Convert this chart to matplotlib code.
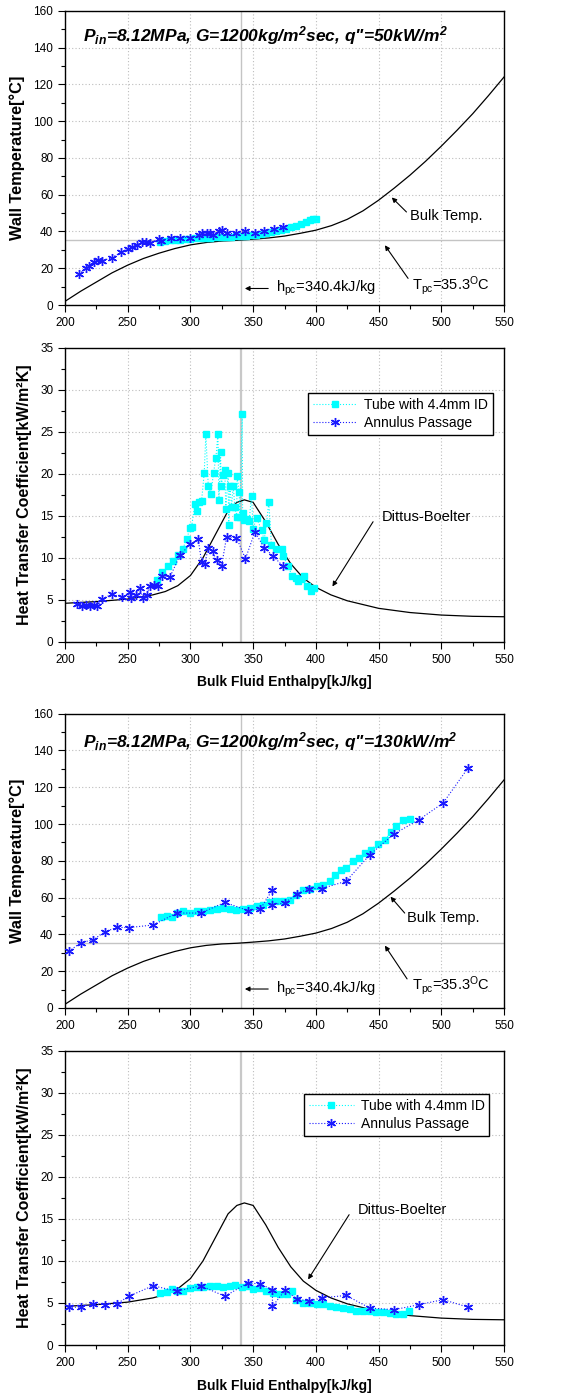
import matplotlib
matplotlib.use('Agg')
import matplotlib.pyplot as plt
from matplotlib.ticker import MultipleLocator

plt.rcParams['font.family'] = ['Liberation Sans', 'DejaVu Sans']
plt.rcParams['mathtext.fontset'] = 'custom'
plt.rcParams['mathtext.rm'] = 'Liberation Sans:bold:italic'
plt.rcParams['mathtext.it'] = 'Liberation Sans:bold:italic'
plt.rcParams['mathtext.bf'] = 'Liberation Sans:bold:italic'
plt.rcParams['mathtext.sf'] = 'Liberation Sans'

# ---------------- data ----------------
H_PC = 340.4
T_PC = 35.3

bulk_h = [200, 212.5, 225, 237.5, 250, 262.5, 275, 287.5, 300, 312.5, 325, 337.5, 350,
          362.5, 375, 387.5, 400, 412.5, 425, 437.5, 450, 462.5, 475, 487.5, 500,
          512.5, 525, 537.5, 550]
bulk_T = [2, 7.5, 12.5, 17.5, 21.7, 25.3, 28.2, 30.7, 32.7, 34, 34.8, 35.2, 35.8,
          36.5, 37.5, 39, 40.7, 43.2, 46.6, 51.2, 57, 63.6, 70.6, 78.2, 86.4,
          95, 104, 113.8, 124]

db_h = [200, 225, 250, 270, 280, 290, 300, 310, 320, 330, 337, 343, 350, 360, 370,
        380, 390, 400, 412, 425, 450, 475, 500, 525, 550]
db_v = [4.6, 4.8, 5.1, 5.6, 6.0, 6.7, 7.9, 10.0, 12.8, 15.6, 16.6, 16.9, 16.6, 14.3, 11.6,
        9.3, 7.6, 6.5, 5.6, 4.9, 4.0, 3.5, 3.2, 3.05, 3.0]

# q" = 50 kW/m2 : wall temperature
tw50_tube_h = [276, 280, 284, 288, 292, 296, 300, 304, 308, 312, 316, 320, 324, 328, 332,
               336, 340, 344, 348, 352, 356, 360, 364, 368, 372, 376, 380, 384, 388, 392,
               395, 398, 400]
tw50_tube_T = [34.5, 35, 35.2, 35.5, 35.6, 35.8, 36, 36.2, 36.3, 36.5, 36.6, 36.8, 37, 37, 37.2,
               37.3, 37.5, 37.7, 38, 38.3, 38.6, 39, 39.5, 40, 40.8, 41.5, 42.5, 43.2, 44, 45,
               46, 47, 47]
tw50_ann_h = [211.2, 216.7, 219.4, 223.4, 226.6, 229.2, 237.2, 244.6, 250.5, 253.1, 257.1,
              261.1, 264.5, 267.7, 275.1, 276.7, 284.2, 291.6, 299.6, 307, 309.4, 312.9, 316,
              318.2, 322.7, 325.3, 328.8, 336.7, 343.9, 351.4, 358.8, 366.5, 373.9]
tw50_ann_T = [16.8, 19.9, 21.3, 23.5, 24.6, 24, 25.7, 28.6, 30.7, 31.5, 32.5,
              34.2, 34.5, 33.8, 36, 34.9, 36.5, 36.7, 36.7, 38, 39.4, 39.4, 39.4,
              38.3, 40.3, 40.7, 38.9, 38.9, 40.5, 39.4, 40.5, 41.6, 42.5]

# q" = 50 kW/m2 : heat transfer coefficient
htc50_tube_h = [273, 277, 282.3, 286.3, 290.3, 293.7, 296.9, 299.6, 300.9, 303.6, 304.9, 307,
                308.9, 311, 312.3, 314.2, 316.3, 318.4, 320.3, 321.9, 322.7, 324, 324.5,
                326.1, 327.4, 328.2, 330.1, 330.5, 331.4, 332.8, 334.1, 335.4, 336.8, 337.3,
                338.9, 339.4, 341.3, 341.6, 342.9, 344.7, 346.8, 348.7, 350, 352.7, 356.7,
                358.8, 360.6, 362.5, 364.6, 368.6, 372.6, 373.9, 377.9, 381.1, 384.5, 385.9,
                388, 390.4, 393, 396.5, 398.6]
htc50_tube_v = [7.4, 8.3, 9.0, 9.6, 10.4, 11.0, 12.2, 13.5, 13.7, 16.4, 15.6, 16.7,
                16.8, 20.1, 24.7, 18.6, 17.6, 20.1, 21.9, 24.7, 16.9, 22.6, 18.6,
                19.9, 20.5, 15.8, 20.1, 13.9, 18.6, 16.1, 18.6, 16.1, 14.9, 19.7,
                17.8, 14.9, 27.1, 15.3, 14.5, 14.6, 14.4, 17.4, 13.4, 14.8, 13.3,
                12.1, 14.1, 16.6, 11.5, 11.0, 11.0, 10.2, 9.0, 7.9, 7.6, 7.2,
                7.5, 7.8, 6.6, 6.1, 6.4]
htc50_ann_h = [209.8, 213.3, 216.7, 219.9, 223.1, 225.8, 229.7, 237.4, 245.1, 251.8, 252.6,
               256.6, 259.7, 261.9, 265.1, 267.7, 270.9, 274.3, 277, 283.6, 291.6, 299.6,
               306.2, 308.9, 311.5, 314.2, 317.6, 320.8, 324.8, 328.8, 336.7, 343.9, 351.4,
               358.8, 366, 373.9]
htc50_ann_v = [4.55, 4.3, 4.4, 4.3, 4.4, 4.3, 5.1, 5.7, 5.3, 5.9, 5.2,
               5.6, 6.4, 5.2, 5.6, 6.7, 6.8, 6.6, 7.9, 7.7, 10.3, 11.6,
               12.2, 9.5, 9.3, 11.2, 10.8, 9.7, 9.0, 12.5, 12.4, 9.9, 13.1,
               11.2, 10.2, 9.0]

# q" = 130 kW/m2 : wall temperature
tw130_tube_h = [276.5, 281, 285, 289, 294.3, 299.6, 304.9, 310.2, 315.5, 320.8, 326.1, 331.4,
                336.7, 342, 347.4, 352.7, 358, 363.3, 368.6, 374, 379.2, 384.5, 389.9, 395.2,
                400.5, 405.8, 411.1, 415.1, 420.4, 424.4, 429.7, 434.5, 439, 443.8, 449.6,
                454.9, 460.2, 464.2, 469.5, 474.8]
tw130_tube_T = [49.5, 49.8, 49.5, 51.6, 52.5, 51.6, 52.5, 52.9, 53.1, 53.8, 54.2, 53.8,
                53.5, 53.8, 54.4, 55.3, 56.2, 57.4, 58, 58.3, 58.9, 61.6, 64, 64.7,
                66.1, 67, 68.9, 72.5, 74.8, 76.1, 79.7, 81.5, 84.3, 86.1, 89.3,
                91.5, 95.7, 98.7, 102.4, 102.7]
tw130_ann_h = [203.2, 212.5, 222.3, 231.6, 241.2, 251, 270.1, 289.2, 308.1, 327.5, 346, 355.6,
               365.4, 365.4, 375.3, 384.8, 394.6, 404.5, 424.1, 443, 462.3, 482.3, 501.4, 521.3]
tw130_ann_T = [30.8, 35.5, 37, 41.3, 43.8, 43.7, 45.1, 51.6, 51.6, 57.4, 52.9, 53.6,
               64.3, 56.2, 57.1, 62, 64.9, 64.9, 68.9, 83.3, 94.6, 102.4, 111.4, 130.5]

# q" = 130 kW/m2 : heat transfer coefficient
htc130_tube_h = [275.7, 281, 285, 289, 294.3, 299.6, 304.9, 310.2, 315.5, 320.8, 326.1, 331.4,
                 335.4, 340.8, 346, 350, 355.3, 360.6, 365.9, 371.3, 376.6, 380.6, 384.5,
                 389.9, 395.2, 400.5, 405.8, 411.1, 416.4, 421.7, 427, 432.3, 437.6, 443,
                 448.3, 453.6, 458.9, 464.2, 469.5, 474.3]
htc130_tube_v = [6.2, 6.25, 6.65, 6.45, 6.4, 6.8, 6.9, 6.9, 7.05, 7.0, 6.9, 7.0,
                 7.15, 6.9, 7.0, 6.65, 6.8, 6.4, 6.2, 6.05, 6.05, 6.4, 5.4,
                 5.05, 5.05, 4.9, 4.85, 4.65, 4.5, 4.4, 4.3, 4.1, 4.0, 4.0,
                 3.9, 3.9, 3.8, 3.7, 3.7, 4.0]
htc130_ann_h = [203.2, 212.5, 222.3, 231.6, 241.2, 251, 270.1, 289.2, 308.1, 327.5, 346, 355.6,
                365.4, 365.4, 375.3, 384.8, 394.6, 404.5, 424.1, 443, 462.3, 482.3, 501.4, 521.3]
htc130_ann_v = [4.5, 4.5, 4.9, 4.8, 4.9, 5.8, 7.05, 6.4, 7.05, 5.8, 7.4, 7.25,
                6.6, 4.6, 6.5, 5.5, 5.2, 5.6, 5.9, 4.4, 4.2, 4.8, 5.4, 4.5]

titles = ['P$_{in}$=8.12MPa, G=1200kg/m$^{2}$sec, q"=50kW/m$^{2}$',
          'P$_{in}$=8.12MPa, G=1200kg/m$^{2}$sec, q"=130kW/m$^{2}$']

CYAN = '#00ffff'
BLUE = '#1a1aff'

fig = plt.figure(figsize=(5.68, 13.98), dpi=100)
L, W, HT = 0.1144, 0.773, 0.2105
bottoms = [0.7818, 0.5408, 0.2790, 0.0379]
axes = [fig.add_axes([L, b, W, HT]) for b in bottoms]


def style(ax, ymax, ymaj, ymin):
    ax.set_xlim(200, 550)
    ax.set_ylim(0, ymax)
    ax.xaxis.set_major_locator(MultipleLocator(50))
    ax.xaxis.set_minor_locator(MultipleLocator(25))
    ax.yaxis.set_major_locator(MultipleLocator(ymaj))
    ax.yaxis.set_minor_locator(MultipleLocator(ymin))
    ax.tick_params(which='both', direction='out', top=False, right=False,
                   labelsize=8.5, width=0.8, colors='black')
    ax.tick_params(which='major', length=5)
    ax.tick_params(which='minor', length=3)
    ax.grid(True, which='major', ls=(0, (1, 2)), color='#bdbdbd', lw=0.8)
    ax.set_axisbelow(True)
    for s in ax.spines.values():
        s.set_linewidth(1.0)


def arrow(ax, xy, xytext):
    ax.annotate('', xy=xy, xytext=xytext,
                arrowprops=dict(arrowstyle='-|>', color='black', lw=0.8,
                                mutation_scale=7, shrinkA=0, shrinkB=0))


def wall_panel(ax, tube_h, tube_T, ann_h, ann_T, title, title_y, arrows):
    style(ax, 160, 20, 10)
    ax.axvline(H_PC, color='#c4c4c4', lw=1.0, zorder=1)
    ax.axhline(T_PC, color='#c4c4c4', lw=1.0, zorder=1)
    ax.plot(bulk_h, bulk_T, color='black', lw=0.9, zorder=2)
    ax.plot(tube_h, tube_T, ls=':', color=CYAN, lw=0.8, marker='s', ms=5,
            mec=CYAN, mfc=CYAN, zorder=3)
    ax.plot(ann_h, ann_T, ls=':', color=BLUE, lw=0.8, marker=(6, 2, 0), ms=6.5,
            mew=1.0, mec=BLUE, zorder=4)
    ax.text(214.5, title_y, title, fontsize=12.5, fontweight='bold', fontstyle='italic',
            va='center', ha='left')
    ax.set_ylabel('Wall Temperature[°C]', fontsize=11.8, fontweight='bold', labelpad=6)
    (bt_xy, bt_txt, bt_pos), (tp_xy, tp_txt, tp_pos), (hp_y) = arrows
    ax.text(bt_pos[0], bt_pos[1], 'Bulk Temp.', fontsize=10.5, va='center', ha='left')
    arrow(ax, bt_xy, bt_txt)
    ax.text(tp_pos[0], tp_pos[1], r'T$_{\mathsf{pc}}$=35.3$^{\mathsf{O}}$C', fontsize=10.5,
            va='center', ha='left')
    arrow(ax, tp_xy, tp_txt)
    ax.text(368, hp_y, r'h$_{\mathsf{pc}}$=340.4kJ/kg', fontsize=10.5, va='center', ha='left')
    arrow(ax, (343.4, hp_y), (362, hp_y))


def htc_panel(ax, tube_h, tube_v, ann_h, ann_v, db_xy, db_txt, db_pos, leg_anchor):
    style(ax, 35, 5, 2.5)
    ax.axvline(H_PC, color='#c8c8c8', lw=1.6, zorder=1)
    ax.plot(db_h, db_v, color='black', lw=0.9, zorder=2)
    ax.plot(tube_h, tube_v, ls=':', color=CYAN, lw=0.8, marker='s', ms=5,
            mec=CYAN, mfc=CYAN, zorder=3, label='Tube with 4.4mm ID')
    ax.plot(ann_h, ann_v, ls=':', color=BLUE, lw=0.8, marker=(6, 2, 0), ms=6.5,
            mew=1.0, mec=BLUE, zorder=4, label='Annulus Passage')
    ax.text(db_pos[0], db_pos[1], 'Dittus-Boelter', fontsize=10.5, va='center', ha='left')
    arrow(ax, db_xy, db_txt)
    ax.set_ylabel('Heat Transfer Coefficient[kW/m²K]', fontsize=11.5, fontweight='bold',
                  labelpad=6)
    ax.set_xlabel('Bulk Fluid Enthalpy[kJ/kg]', fontsize=10, fontweight='bold', labelpad=7)
    leg = ax.legend(loc='upper right', bbox_to_anchor=leg_anchor, fontsize=10,
                    frameon=True, fancybox=False, edgecolor='black', framealpha=1,
                    handlelength=3.2, borderpad=0.35, labelspacing=0.3, handletextpad=0.5,
                    borderaxespad=0)
    leg.get_frame().set_linewidth(1.0)


wall_panel(axes[0], tw50_tube_h, tw50_tube_T, tw50_ann_h, tw50_ann_T, titles[0], 146.5,
           (((460.5, 58.5), (472.2, 50.6), (474.8, 48.5)),
            ((455, 32.5), (473.5, 14.5), (476.7, 10.8)),
            9.0))
htc_panel(axes[1], htc50_tube_h, htc50_tube_v, htc50_ann_h, htc50_ann_v,
          (413.2, 6.6), (445.6, 14.3), (452.8, 14.9), (0.974, 0.847))
wall_panel(axes[2], tw130_tube_h, tw130_tube_T, tw130_ann_h, tw130_ann_T, titles[1], 145,
           (((459.5, 60.5), (470.8, 51.6), (473, 48.9)),
            ((455, 33.9), (472.7, 15.8), (476.7, 12.1)),
            10.3))
htc_panel(axes[3], htc130_tube_h, htc130_tube_v, htc130_ann_h, htc130_ann_v,
          (393.8, 7.8), (426.5, 15.5), (433.7, 16.1), (0.9665, 0.852))

fig.savefig('out.png', dpi=100)
